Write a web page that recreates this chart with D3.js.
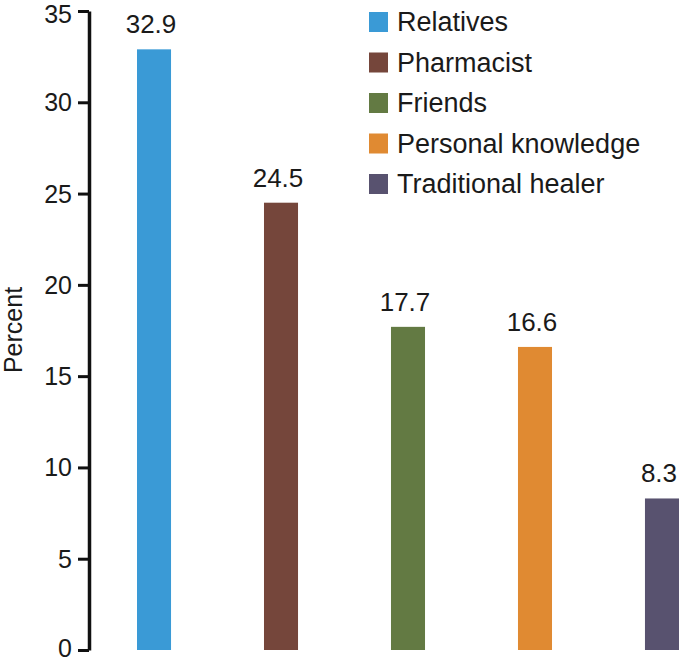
<!DOCTYPE html>
<html><head><meta charset="utf-8">
<script src="https://cdn.jsdelivr.net/npm/d3@7"></script>
<style>body{margin:0;background:#fff}svg{display:block}</style>
</head><body><svg id="c" width="682" height="662"></svg>
<script>
const categories = ["Relatives","Pharmacist","Friends","Personal knowledge","Traditional healer"];
const values = [32.9, 24.5, 17.7, 16.6, 8.3];
const colors = ["#3a9ad6","#75463b","#637a43","#e08a32","#58526f"];
const yTicks = [0,5,10,15,20,25,30,35];

const svg = d3.select("#c");
const font = "'Liberation Sans', Arial, Helvetica, sans-serif";
const y = d3.scaleLinear().domain([0,35]).range([650,11]);
const x = d3.scaleBand().domain(categories).range([137,679]).paddingInner(0.732).paddingOuter(0);

const ax = svg.append("g").attr("transform","translate(89,0)")
  .call(d3.axisLeft(y).tickValues(yTicks).tickSize(11).tickSizeOuter(0).tickPadding(6));
ax.select(".domain").attr("stroke","#111").attr("stroke-width",3.5);
ax.selectAll(".tick line").attr("stroke","#111").attr("stroke-width",3);
ax.selectAll(".tick text").attr("font-family",font).attr("font-size",25).attr("fill","#1a1a1a")
  .attr("dy",d=>d===35?"11":d===0?"6.5":"8.5");

svg.append("text").attr("transform","translate(22,330) rotate(-90)")
  .attr("text-anchor","middle").attr("font-family",font).attr("font-size",25).attr("fill","#1a1a1a").text("Percent");

svg.selectAll("rect.bar").data(categories).join("rect").attr("class","bar")
  .attr("x",d=>x(d)).attr("width",x.bandwidth())
  .attr("y",(d,i)=>y(values[i])).attr("height",(d,i)=>y(0)-y(values[i]))
  .attr("fill",(d,i)=>colors[i]);

svg.selectAll("text.val").data(categories).join("text").attr("class","val")
  .attr("x",d=>x(d)+x.bandwidth()/2-3).attr("y",(d,i)=>y(values[i])-16)
  .attr("text-anchor","middle").attr("font-family",font).attr("font-size",26).attr("fill","#1a1a1a")
  .text((d,i)=>values[i].toFixed(1));

const legY = d3.scalePoint().domain(categories).range([31,193]);
const lg = svg.append("g");
lg.selectAll("rect").data(categories).join("rect")
  .attr("x",369).attr("y",d=>legY(d)-19).attr("width",19).attr("height",20)
  .attr("fill",(d,i)=>colors[i]);
lg.selectAll("text").data(categories).join("text")
  .attr("x",397).attr("y",d=>legY(d)).attr("font-family",font).attr("font-size",27).attr("fill","#1a1a1a")
  .text(d=>d);
</script></body></html>
